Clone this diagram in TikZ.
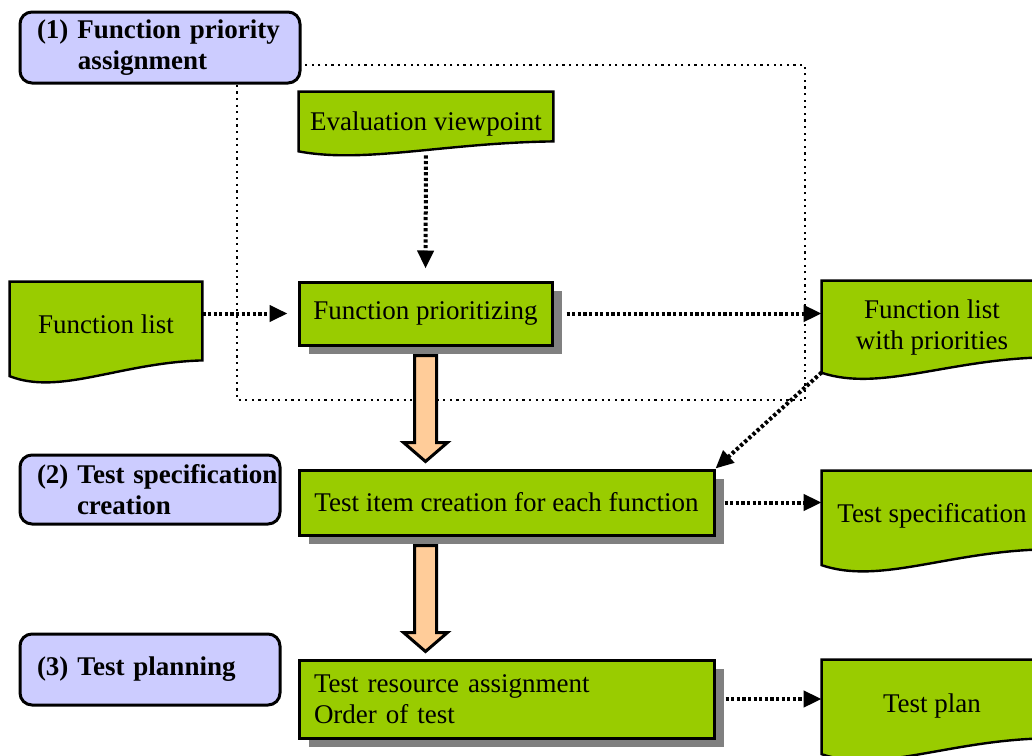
\documentclass[tikz,border=0pt]{standalone}
\usepackage{fontspec}
\setmainfont{Liberation Serif}
\usetikzlibrary{arrows.meta, calc, shadows, backgrounds}

\definecolor{leafgreen}{HTML}{99CC00}
\definecolor{phaseblue}{HTML}{CCCCFF}
\definecolor{peach}{HTML}{FFCC99}
\definecolor{shadowgray}{HTML}{808080}

\newcommand{\diagfont}{\fontsize{13.5}{15.5}\selectfont}

\tikzset{
  phase/.style={rectangle, rounded corners=6pt, draw, line width=1.5pt, fill=phaseblue,
    font=\diagfont\bfseries, align=left, inner xsep=8.5pt},
  proc/.style={rectangle, draw, line width=1.5pt, fill=leafgreen, font=\diagfont, align=center,
    drop shadow={shadow xshift=5pt, shadow yshift=-4.5pt, fill=shadowgray, opacity=1}},
  doc/.style={rectangle, inner sep=0pt},
  doctext/.style={font=\diagfont, align=center, inner sep=0pt},
  docshape/.style={draw, line width=1.2pt, fill=leafgreen},
  flow/.style={line width=2pt, dash pattern=on 1.6pt off 1.2pt, -{Triangle[length=9pt,width=8pt]}},
  frame/.style={line width=1.1pt, dash pattern=on 1.1pt off 2.2pt},
  bigarrow/.style={draw, line width=1.5pt, fill=peach, line join=miter},
}

% document symbol with a wavy lower edge, behind the node text
\newcommand{\docwave}[1]{%
  \path let \p1=(#1.north west), \p2=(#1.south east), \n1={\y1-\y2}, \n2={\x2-\x1} in
    [docshape] (\p1) -- (\x2,\y1) -- (\p2)
    .. controls ({\x2-0.43*\n2*1pt},{\y2-0.03*\n1*1pt}) and ({\x1+0.26*\n2*1pt},{\y2-0.45*\n1*1pt})
    .. ({\x1},{\y2-0.2*\n1*1pt}) -- cycle;}

% thick block arrow going down between two steps
\newcommand{\bigdown}[3]{%
  \path let \p1=(#1.south), \p2=(#2.north), \p3=(#3.south) in
    [bigarrow] (\x3-5.5pt,\y1-4.5pt) -- (\x3+5.5pt,\y1-4.5pt) -- (\x3+5.5pt,\y2+13pt)
    -- (\x3+11pt,\y2+13pt) -- (\x3,\y2+3.5pt) -- (\x3-11pt,\y2+13pt)
    -- (\x3-5.5pt,\y2+13pt) -- cycle;}

\begin{document}
\begin{tikzpicture}[x=0.5pt, y=-0.5pt]
\useasboundingbox (0,0) rectangle (1032,755);

% phases
\node[phase, text width=123pt, minimum height=35.5pt] (prio) at (160,47.5)
  {\mbox{(1) Function priority}\\\hspace*{20.5pt}assignment};
\node[phase, text width=113pt, minimum height=34.5pt] (spec) at (150,489.5)
  {\mbox{(2) Test specification}\\\hspace*{20pt}creation};
\node[phase, text width=113pt, minimum height=35.5pt] (plan) at (150,669.5)
  {(3) Test planning};

% process steps
\node[proc, minimum width=126.5pt, minimum height=31.5pt] (fp) at (425.5,313.5) {Function prioritizing};
\node[proc, minimum width=207.5pt, minimum height=32.5pt] (tic) at (506.5,502.5) {Test item creation for each function};
\node[proc, text width=192.5pt, inner xsep=7.5pt, align=left, minimum height=39pt] (tr) at (506.5,699)
  {Test resource assignment\\Order of test};

% documents
\node[doc, minimum width=127pt, minimum height=24.5pt,
  label={[doctext, yshift=-4pt]center:Evaluation viewpoint}] (ev) at (426,116.5) {};
\node[doc, minimum width=96pt, minimum height=39pt,
  label={[doctext, yshift=-1.5pt]center:Function list}] (fl) at (106,321) {};
\node[doc, minimum width=110pt, minimum height=38pt,
  label={[doctext, yshift=-4.5pt]center:Function list\\with priorities}] (flp) at (932,319) {};
\node[doc, minimum width=110pt, minimum height=39pt,
  label={[doctext, yshift=-3pt]center:Test specification}] (ts) at (932,510) {};
\node[doc, minimum width=110pt, minimum height=39pt,
  label={[doctext, yshift=-3.5pt]center:Test plan}] (tp) at (932,699) {};

\begin{pgfonlayer}{background}
  \docwave{ev}
  \docwave{fl}
  \docwave{flp}
  \docwave{ts}
  \docwave{tp}
  \draw[frame] (237,65) rectangle (805,400);
\end{pgfonlayer}

% flows
\coordinate (flpfoot) at ([yshift=-7.5pt]flp.south west);
\draw[flow, shorten <=7pt, shorten >=6pt] (ev.south) -- (fp.north);
\draw[flow, shorten >=5pt] (fp.west -| fl.east) -- (fp.west);
\draw[flow, shorten <=6.5pt] (fp.east) -- (fp.east -| flp.west);
\draw[flow] (flpfoot) -- (tic.north east);
\draw[flow, shorten <=4.5pt] (tic.east) -- (tic.east -| ts.west);
\draw[flow, shorten <=5pt] (tr.east) -- (tp.west);

\bigdown{fp}{tic}{fp}
\bigdown{tic}{tr}{fp}

\end{tikzpicture}
\end{document}
